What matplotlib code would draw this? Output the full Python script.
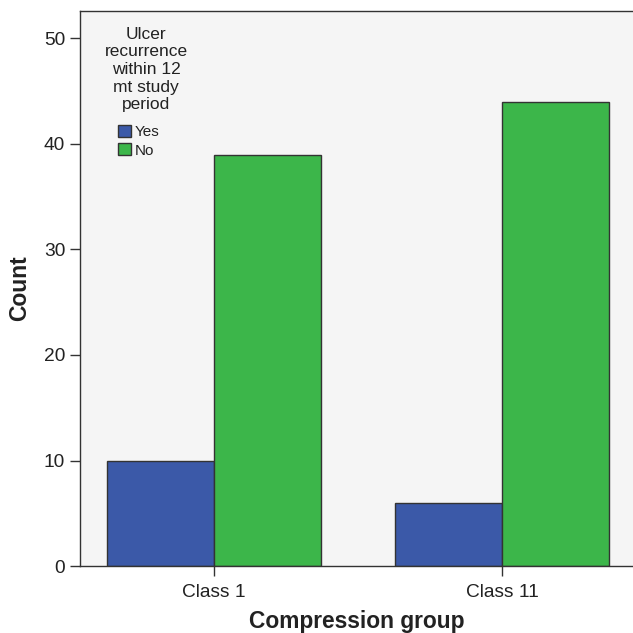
import numpy as np
import matplotlib.pyplot as plt

plt.rcParams['font.family'] = ['Liberation Sans', 'DejaVu Sans']

groups = ["Class 1", "Class 11"]
yes_counts = [10, 6]
no_counts = [39, 44]
series_names = ["Yes", "No"]
colors = ["#3b59a8", "#3cb64a"]
legend_title = "Ulcer\nrecurrence\nwithin 12\nmt study\nperiod"

fig = plt.figure(figsize=(6.33, 6.33), dpi=100)
ax = fig.add_axes([0.1264, 0.1058, 0.8736, 0.8768])
ax.set_facecolor("#f5f5f5")

x = np.arange(len(groups))
w = 0.37
ax.bar(x - w / 2, yes_counts, w, color=colors[0], edgecolor="#333333", linewidth=1, label=series_names[0])
ax.bar(x + w / 2, no_counts, w, color=colors[1], edgecolor="#333333", linewidth=1, label=series_names[1])

ax.set_xlim(-0.465, 1.455)
ax.set_ylim(0, 52.6)
ax.set_yticks([0, 10, 20, 30, 40, 50])
ax.set_xticks(x)
ax.set_xticklabels(groups)
ax.tick_params(axis="both", direction="out", length=7.2, width=1, color="#333333",
               labelsize=13.8, labelcolor="#222222", pad=3.5)
ax.tick_params(axis="x", pad=6)
ax.spines["right"].set_visible(False)
for s in ["left", "bottom", "top"]:
    ax.spines[s].set_color("#333333")
    ax.spines[s].set_linewidth(1)

ax.set_ylabel("Count", fontsize=16.5, fontweight="bold", color="#222222", labelpad=9)
ax.set_xlabel("Compression group", fontsize=16.4, fontweight="bold", color="#222222", labelpad=6)

# legend title drawn on its own, entries below it
fig.text(0.2306, 0.958, legend_title, ha="center", va="top", fontsize=12.5,
         linespacing=1.22, color="#222222")
leg = ax.legend(loc="upper left", bbox_to_anchor=(118 / 633, 1 - 125 / 633),
                bbox_transform=fig.transFigure, frameon=False, fontsize=11,
                handlelength=0.85, handleheight=0.85, handletextpad=0.25,
                labelspacing=0.25, borderpad=0, borderaxespad=0)
for t in leg.get_texts():
    t.set_color("#222222")

fig.savefig("out.png", dpi=100)
